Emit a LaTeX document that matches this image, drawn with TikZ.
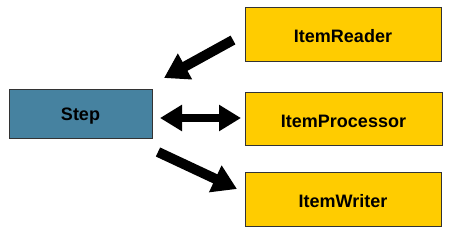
\documentclass[tikz,border=0pt]{standalone}
\usepackage{fontspec}
\setmainfont{Liberation Sans}
\usetikzlibrary{arrows.meta}
\definecolor{stepblue}{HTML}{4682A0}
\definecolor{itemyellow}{HTML}{FFCC00}
\definecolor{edge}{HTML}{333333}
\newcommand{\lowtxt}[1]{\raisebox{-2.5pt}[\height][\depth]{#1}}
\begin{document}
\begin{tikzpicture}[x=1pt,y=-1pt,
  box/.style={draw=edge, line width=0.9pt, minimum width=#1, inner sep=0pt, font=\fontsize{18}{21}\selectfont\bfseries},
  bigarrow/.style={line width=10pt, -{Triangle[width=28pt,length=24pt]}},
  dblarrow/.style={line width=8pt, {Triangle[width=25pt,length=22pt]}-{Triangle[width=25pt,length=22pt]}}]
\useasboundingbox (0,0) rectangle (449,234);
\node[box=143pt, minimum height=49pt, fill=stepblue] (step) at (80.5,113.5) {\lowtxt{Step}};
\node[box=196pt, minimum height=54pt, fill=itemyellow] (reader) at (343,34) {\lowtxt{ItemReader}};
\node[box=197pt, minimum height=53pt, fill=itemyellow] (proc) at (343.5,118.5) {\lowtxt{ItemProcessor}};
\node[box=196pt, minimum height=54pt, fill=itemyellow] (writer) at (343,199) {\lowtxt{ItemWriter}};
\coordinate (rtail) at (233,40);
\coordinate (rtip) at (164,78);
\coordinate (pl) at (160,118);
\coordinate (pr) at (241,118);
\coordinate (wtail) at (158,152);
\coordinate (wtip) at (237,189);
\draw[bigarrow] (rtail) -- (rtip);
\draw[dblarrow] (pl) -- (pr);
\draw[bigarrow] (wtail) -- (wtip);
\end{tikzpicture}
\end{document}
